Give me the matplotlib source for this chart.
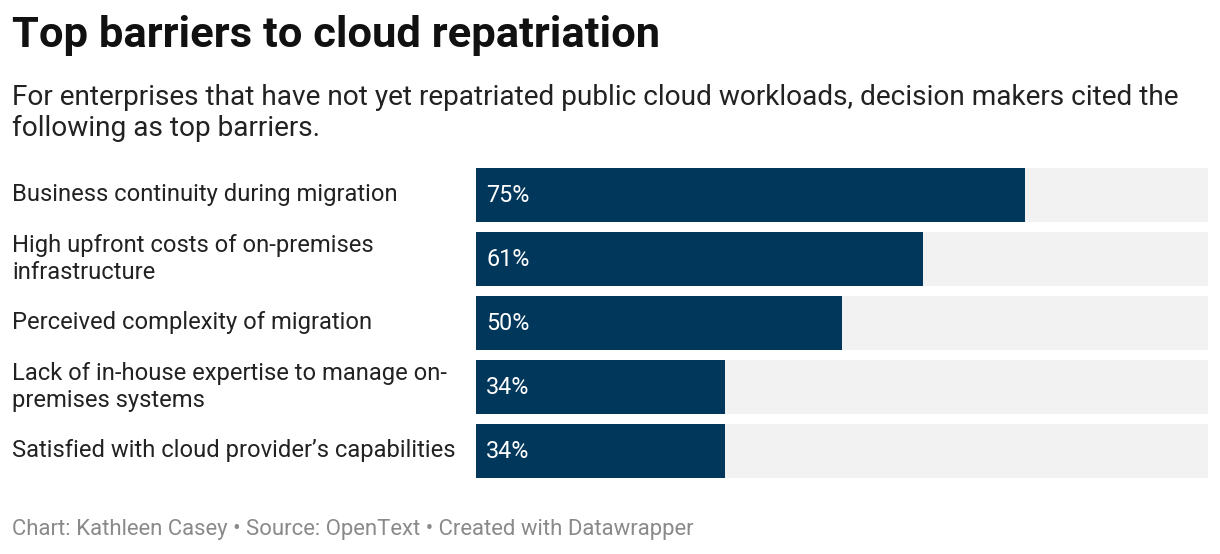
import matplotlib
matplotlib.use("Agg")
import matplotlib.pyplot as plt

labels = [
    "Business continuity during migration",
    "High upfront costs of on-premises\ninfrastructure",
    "Perceived complexity of migration",
    "Lack of in-house expertise to manage on-\npremises systems",
    "Satisfied with cloud provider\u2019s capabilities",
]
values = [75, 61, 50, 34, 34]

W, H = 1220, 554
plt.rcParams['font.family'] = ['Roboto', 'DejaVu Sans']
fig = plt.figure(figsize=(W / 100, H / 100), dpi=100)

# bar area in pixels: x 476..1208, y 163..483
ax = fig.add_axes([476 / W, 1 - 483 / H, 732 / W, 320 / H])
ypos = list(range(len(labels)))
ax.barh(ypos, [100] * len(values), height=54 / 64, color="#f2f2f2", left=0)
ax.barh(ypos, values, height=54 / 64, color="#01375a")
ax.set_xlim(0, 100)
ax.set_ylim(len(labels) - 0.5, -0.5)
ax.axis("off")

for y, v in zip(ypos, values):
    ax.text(1.4, y, f"{v}%", color="white", fontsize=16.8, va="center", ha="left")

for y, lab in zip(ypos, labels):
    fig.text(12 / W, 1 - (195 + 64 * y) / H, lab, fontsize=17.1, color="#222222",
             va="center", ha="left", linespacing=1.17)

fig.text(12 / W, 1 - 36 / H, "Top barriers to cloud repatriation", fontsize=31.3,
         fontweight="bold", color="#111111", va="center", ha="left")
fig.text(12 / W, 1 - 113 / H,
         "For enterprises that have not yet repatriated public cloud workloads, decision makers cited the\nfollowing as top barriers.",
         fontsize=20.2, color="#222222", va="center", ha="left", linespacing=1.2)
fig.text(12 / W, 1 - 530 / H,
         "Chart: Kathleen Casey \u2022 Source: OpenText \u2022 Created with Datawrapper",
         fontsize=15.9, color="#8a8a8a", va="center", ha="left")

fig.savefig("out.png", dpi=100, facecolor="white")
